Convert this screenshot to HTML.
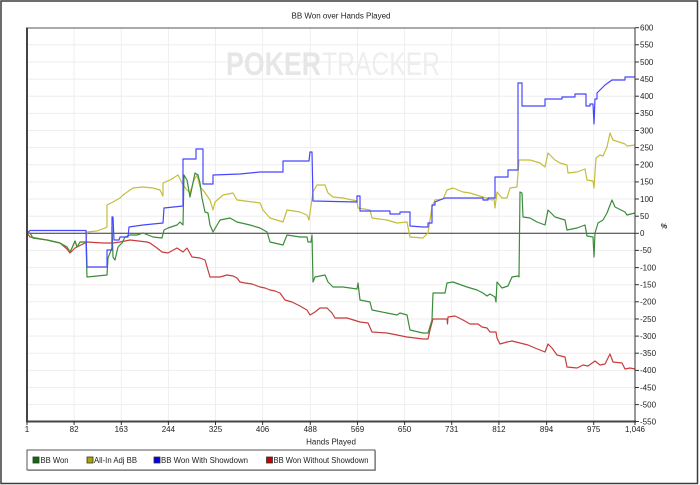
<!DOCTYPE html>
<html>
<head>
<meta charset="utf-8">
<style>
  html, body { margin:0; padding:0; background:#fff; }
  svg { display:block; font-family:"Liberation Sans", Arial, sans-serif; }
</style>
</head>
<body>
<svg width="700" height="485" viewBox="0 0 700 485" xmlns="http://www.w3.org/2000/svg">
  <rect x="0" y="0" width="700" height="485" fill="#fff"/>
  <!-- outer frame -->
  <rect x="1" y="1" width="696.5" height="482.5" fill="none" stroke="#3c3c3c" stroke-width="1.5"/>

  <!-- title -->
  <text x="341" y="18.5" font-size="8" text-anchor="middle" fill="#222">BB Won over Hands Played</text>

  <!-- gridlines -->
  <g stroke="#eeeeee" stroke-width="1">
    <line x1="27" y1="44.8" x2="635" y2="44.8"/>
    <line x1="27" y1="62.0" x2="635" y2="62.0"/>
    <line x1="27" y1="79.1" x2="635" y2="79.1"/>
    <line x1="27" y1="96.2" x2="635" y2="96.2"/>
    <line x1="27" y1="113.4" x2="635" y2="113.4"/>
    <line x1="27" y1="130.5" x2="635" y2="130.5"/>
    <line x1="27" y1="147.6" x2="635" y2="147.6"/>
    <line x1="27" y1="164.8" x2="635" y2="164.8"/>
    <line x1="27" y1="181.9" x2="635" y2="181.9"/>
    <line x1="27" y1="199.0" x2="635" y2="199.0"/>
    <line x1="27" y1="216.2" x2="635" y2="216.2"/>
    <line x1="27" y1="250.4" x2="635" y2="250.4"/>
    <line x1="27" y1="267.6" x2="635" y2="267.6"/>
    <line x1="27" y1="284.7" x2="635" y2="284.7"/>
    <line x1="27" y1="301.8" x2="635" y2="301.8"/>
    <line x1="27" y1="319.0" x2="635" y2="319.0"/>
    <line x1="27" y1="336.1" x2="635" y2="336.1"/>
    <line x1="27" y1="353.2" x2="635" y2="353.2"/>
    <line x1="27" y1="370.4" x2="635" y2="370.4"/>
    <line x1="27" y1="387.5" x2="635" y2="387.5"/>
    <line x1="27" y1="404.6" x2="635" y2="404.6"/>
    <line x1="74.1" y1="28" x2="74.1" y2="421.5"/>
    <line x1="121.3" y1="28" x2="121.3" y2="421.5"/>
    <line x1="168.4" y1="28" x2="168.4" y2="421.5"/>
    <line x1="215.5" y1="28" x2="215.5" y2="421.5"/>
    <line x1="262.6" y1="28" x2="262.6" y2="421.5"/>
    <line x1="310.3" y1="28" x2="310.3" y2="421.5"/>
    <line x1="357.5" y1="28" x2="357.5" y2="421.5"/>
    <line x1="404.6" y1="28" x2="404.6" y2="421.5"/>
    <line x1="451.7" y1="28" x2="451.7" y2="421.5"/>
    <line x1="498.9" y1="28" x2="498.9" y2="421.5"/>
    <line x1="546.6" y1="28" x2="546.6" y2="421.5"/>
    <line x1="593.7" y1="28" x2="593.7" y2="421.5"/>
  </g>

  <!-- watermark -->
  <text x="226" y="75" font-size="32" font-weight="bold" fill="#e6e6e6" textLength="95" lengthAdjust="spacingAndGlyphs">POKER</text>
  <text x="322" y="75" font-size="32" fill="#eeeeee" textLength="118" lengthAdjust="spacingAndGlyphs">TRACKER</text>

  <!-- zero line -->
  <line x1="27" y1="233.3" x2="635" y2="233.3" stroke="#333" stroke-width="1"/>

  <!-- series -->
  <g fill="none" stroke-width="1.2" stroke-linejoin="round">
    <!-- Red: BB Won Without Showdown -->
    <polyline stroke="#c83c3c" points="27,233 30,237 47,240 60,243 67,249 70,253 75,248 87,242 103,243 113,243 120,242 130,240 147,242 150,243 157,248 162,252 168,253 177,248 183,252 187,248 192,257 200,258 205,260 210,277 220,277 227,275 233,276 237,278 240,282 245,283 252,284 260,287 265,288 270,290 275,291 280,293 285,300 292,302 300,306 307,310 310,315 315,312 320,308 327,308 332,313 335,318 347,318 360,322 368,323 372,332 387,333 397,335 407,337 423,339 428,339 430,330 433,319 447,319 447.5,324 448,317 455,316 463,320 470,324 478,324 482,327 487,328 490,332 496,332 497,338 500,344 507,342 512,341 520,343 528,345 535,348 545,352 548,344 552,348 557,355 565,357 567,367 577,368 583,365 588,366 595,361 600,365 605,364 610,354 613,362 622,363 625,369 630,368 635,369"/>
    <!-- Yellow: All-In Adj BB -->
    <polyline stroke="#c4be3a" points="27,233 30,233 33,238 47,240 60,243 67,247 70,252 72,248 75,241 77,247 80,242 86,242 87,232 97,231 105,228 107,227 107,205 113,202 120,198 123,195 130,190 133,188 143,187 153,188 160,190 163,196 163,183 170,180 178,175 183,185 187,190 190,193 194,180 197,175 200,187 203,190 210,200 213,210 215,202 223,195 233,193 237,200 253,202 260,203 263,210 270,218 283,222 287,210 300,212 307,215 309,220 313,192 317,185 325,185 328,193 333,197 343,198 357,201 358,208 370,210 372,218 387,220 397,223 407,222 410,237 423,238 428,233 432,207 435,200 443,199 447,190 453,188 463,192 470,193 483,197 492,200 494,199 495,208 497,192 502,198 507,198 510,188 517,187 519,160 530,160 540,163 545,167 548,153 555,160 560,163 567,165 568,173 577,172 585,169 587,180 593,181 594,188 596,158 600,155 603,156 607,147 610,133 613,140 625,144 627,146 635,145"/>
    <!-- Green: BB Won -->
    <polyline stroke="#3c8c3c" points="27,233 30,233 33,238 47,240 60,243 67,247 70,252 72,248 75,241 77,247 80,242 86,242 87,277 97,276 107,275 108,258 112,248 112,227 113,257 115,260 118,247 122,243 125,237 130,235 137,235 143,233 153,237 162,238 164,230 168,228 177,225 180,222 183,225 184,175 187,180 190,197 195,173 198,175 200,183 202,198 205,212 208,213 210,225 213,232 220,220 230,218 237,222 250,225 260,228 267,232 270,242 283,245 287,235 300,237 307,237 308,242 311,242 312,235 313,282 315,277 325,275 328,282 333,287 343,287 357,289 358,283 360,300 370,302 372,310 387,313 397,315 400,313 407,315 410,330 423,333 428,333 432,320 433,293 445,293 447,283 453,282 467,287 477,290 483,293 487,296 490,294 495,297 496,302 497,282 502,288 508,286 512,277 518,276 519,277 520,192 522,193 523,217 530,218 537,222 545,225 548,210 555,217 565,220 567,230 577,228 585,225 587,236 593,237 594,257 595,233 598,223 603,220 607,213 612,200 615,207 625,212 627,215 635,213"/>
    <!-- Blue: BB Won With Showdown -->
    <polyline stroke="#4646ff" points="27,233 30,230.5 86,230.5 87,267 107,267 107,250 112,250 112,217 113,217 114,240 119,240 120,237 128,237 129,227 143,225 163,223 164,208 183,206 183,159 196,159 196,149 203,149 203,184 213,184 213,175 240,174 260,172 283,172 283,161 309,161 310,152 312,152 313,201 357,202 357,196 360,196 360,211 390,211 390,214 400,214 400,212 410,212 410,226 423,227 428,227 428,223 432,223 432,205 435,205 435,202 445,198 483,198 483,200 488,200 488,198 495,198 495,177 508,177 508,170 518,170 518,83 522,83 522,106 545,106 545,99 562,99 562,97 575,97 575,94 586,94 586,106 590,106 590,104 593,104 594,124 595,99 597,99 597,93 602,88 605,85 612,80 625,80 625,77 635,77"/>
  </g>

  <!-- plot border / axes -->
  <line x1="27" y1="28" x2="635" y2="28" stroke="#555" stroke-width="1"/>
  <line x1="27" y1="27.5" x2="27" y2="422" stroke="#444" stroke-width="2"/>
  <line x1="26" y1="421.5" x2="636" y2="421.5" stroke="#444" stroke-width="2"/>
  <line x1="635" y1="27.5" x2="635" y2="422" stroke="#333" stroke-width="1"/>

  <!-- right ticks -->
  <g stroke="#333" stroke-width="1">
    <line x1="635" y1="27.7" x2="639" y2="27.7"/>
    <line x1="635" y1="44.8" x2="639" y2="44.8"/>
    <line x1="635" y1="62.0" x2="639" y2="62.0"/>
    <line x1="635" y1="79.1" x2="639" y2="79.1"/>
    <line x1="635" y1="96.2" x2="639" y2="96.2"/>
    <line x1="635" y1="113.4" x2="639" y2="113.4"/>
    <line x1="635" y1="130.5" x2="639" y2="130.5"/>
    <line x1="635" y1="147.6" x2="639" y2="147.6"/>
    <line x1="635" y1="164.8" x2="639" y2="164.8"/>
    <line x1="635" y1="181.9" x2="639" y2="181.9"/>
    <line x1="635" y1="199.0" x2="639" y2="199.0"/>
    <line x1="635" y1="216.2" x2="639" y2="216.2"/>
    <line x1="635" y1="233.3" x2="639" y2="233.3"/>
    <line x1="635" y1="250.4" x2="639" y2="250.4"/>
    <line x1="635" y1="267.6" x2="639" y2="267.6"/>
    <line x1="635" y1="284.7" x2="639" y2="284.7"/>
    <line x1="635" y1="301.8" x2="639" y2="301.8"/>
    <line x1="635" y1="319.0" x2="639" y2="319.0"/>
    <line x1="635" y1="336.1" x2="639" y2="336.1"/>
    <line x1="635" y1="353.2" x2="639" y2="353.2"/>
    <line x1="635" y1="370.4" x2="639" y2="370.4"/>
    <line x1="635" y1="387.5" x2="639" y2="387.5"/>
    <line x1="635" y1="404.6" x2="639" y2="404.6"/>
    <line x1="635" y1="421.5" x2="639" y2="421.5"/>
  </g>
  <!-- bottom ticks -->
  <g stroke="#333" stroke-width="1">
    <line x1="27" y1="421" x2="27" y2="425"/>
    <line x1="74.1" y1="421" x2="74.1" y2="425"/>
    <line x1="121.3" y1="421" x2="121.3" y2="425"/>
    <line x1="168.4" y1="421" x2="168.4" y2="425"/>
    <line x1="215.5" y1="421" x2="215.5" y2="425"/>
    <line x1="262.6" y1="421" x2="262.6" y2="425"/>
    <line x1="310.3" y1="421" x2="310.3" y2="425"/>
    <line x1="357.5" y1="421" x2="357.5" y2="425"/>
    <line x1="404.6" y1="421" x2="404.6" y2="425"/>
    <line x1="451.7" y1="421" x2="451.7" y2="425"/>
    <line x1="498.9" y1="421" x2="498.9" y2="425"/>
    <line x1="546.6" y1="421" x2="546.6" y2="425"/>
    <line x1="593.7" y1="421" x2="593.7" y2="425"/>
    <line x1="635" y1="421" x2="635" y2="425"/>
  </g>

  <!-- right axis labels -->
  <g font-size="8" fill="#222">
    <text x="640" y="30.5">600</text>
    <text x="640" y="47.6">550</text>
    <text x="640" y="64.8">500</text>
    <text x="640" y="81.9">450</text>
    <text x="640" y="99.0">400</text>
    <text x="640" y="116.2">350</text>
    <text x="640" y="133.3">300</text>
    <text x="640" y="150.4">250</text>
    <text x="640" y="167.6">200</text>
    <text x="640" y="184.7">150</text>
    <text x="640" y="201.8">100</text>
    <text x="640" y="219.0">50</text>
    <text x="640" y="236.1">0</text>
    <text x="640" y="253.2">-50</text>
    <text x="640" y="270.4">-100</text>
    <text x="640" y="287.5">-150</text>
    <text x="640" y="304.6">-200</text>
    <text x="640" y="321.8">-250</text>
    <text x="640" y="338.9">-300</text>
    <text x="640" y="356.0">-350</text>
    <text x="640" y="373.2">-400</text>
    <text x="640" y="390.3">-450</text>
    <text x="640" y="407.4">-500</text>
    <text x="640" y="424.5">-550</text>
  </g>
  <text x="664" y="228.5" font-size="7" font-weight="bold" fill="#222" text-anchor="middle">%</text>

  <!-- bottom axis labels -->
  <g font-size="8" fill="#222" text-anchor="middle">
    <text x="27" y="432">1</text>
    <text x="74.1" y="432">82</text>
    <text x="121.3" y="432">163</text>
    <text x="168.4" y="432">244</text>
    <text x="215.5" y="432">325</text>
    <text x="262.6" y="432">406</text>
    <text x="310.3" y="432">488</text>
    <text x="357.5" y="432">569</text>
    <text x="404.6" y="432">650</text>
    <text x="451.7" y="432">731</text>
    <text x="498.9" y="432">812</text>
    <text x="546.6" y="432">894</text>
    <text x="593.7" y="432">975</text>
    <text x="635" y="432">1,046</text>
  </g>
  <text x="331" y="444.5" font-size="8" fill="#222" text-anchor="middle">Hands Played</text>

  <!-- legend -->
  <rect x="28" y="451" width="348" height="20" fill="#bbb"/>
  <rect x="27" y="450" width="348" height="20" fill="#fff" stroke="#555" stroke-width="1"/>
  <g stroke="#333" stroke-width="0.8">
    <rect x="33" y="457" width="6" height="6" fill="#0a6e0a"/>
    <rect x="87" y="457" width="6" height="6" fill="#a8a800"/>
    <rect x="154" y="457" width="6" height="6" fill="#0000e6"/>
    <rect x="266.5" y="457" width="6" height="6" fill="#cc0000"/>
  </g>
  <g font-size="8" fill="#222">
    <text x="40.5" y="463" textLength="28" lengthAdjust="spacingAndGlyphs">BB Won</text>
    <text x="94" y="463" textLength="43" lengthAdjust="spacingAndGlyphs">All-In Adj BB</text>
    <text x="161" y="463" textLength="87" lengthAdjust="spacingAndGlyphs">BB Won With Showdown</text>
    <text x="273.5" y="463" textLength="95" lengthAdjust="spacingAndGlyphs">BB Won Without Showdown</text>
  </g>
</svg>
</body>
</html>
